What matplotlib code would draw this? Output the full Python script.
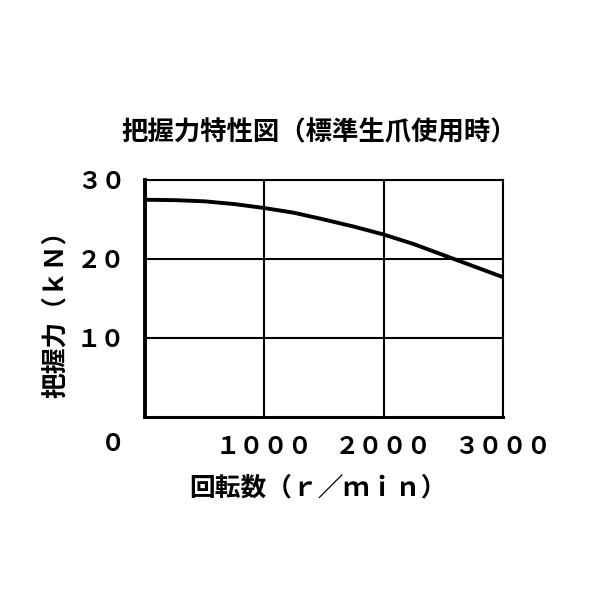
import matplotlib
matplotlib.use("Agg")
import matplotlib.pyplot as plt

plt.rcParams['font.family'] = ['Noto Sans CJK JP', 'DejaVu Sans']
plt.rcParams['font.weight'] = 'bold'

# 回転数 (r/min) と 把握力 (kN)
rpm = [0, 250, 500, 750, 1000, 1250, 1500, 1750, 2000, 2250, 2500, 2750, 3000]
force = [27.5, 27.45, 27.3, 26.95, 26.45, 25.85, 25.0, 24.1, 23.1, 21.9, 20.5, 19.1, 17.7]

xticks = [1000, 2000, 3000]
xticklabels = ["１０００", "２０００", "３０００"]
yticks = [10, 20, 30]
yticklabels = ["１０", "２０", "３０"]

fig = plt.figure(figsize=(6, 6), dpi=100)
ax = fig.add_axes([145/600, 1-417/600, 358/600, 237/600])

ax.plot(rpm, force, color="black", lw=2.8, solid_capstyle="butt", zorder=3)

ax.set_xlim(0, 3000)
ax.set_ylim(0, 30)
ax.set_xticks(xticks)
ax.set_xticklabels(xticklabels, fontsize=17.5)
ax.set_yticks(yticks)
ax.set_yticklabels(yticklabels, fontsize=17.5)
ax.tick_params(length=0, pad=13)
ax.tick_params(axis="y", pad=14)
ax.grid(True, color="black", lw=1.5)

for s in ["top", "right"]:
    ax.spines[s].set_linewidth(1.5)
ax.spines["bottom"].set_linewidth(2.2)
ax.spines["left"].set_linewidth(2.8)

# origin label
ax.text(-0.089, -0.115, "０", transform=ax.transAxes, fontsize=17.5,
        ha="center", va="center")

ax.text(0.486, 1.2, "把握力特性図（標準生爪使用時）", transform=ax.transAxes,
        fontsize=19, ha="center", va="center")
ax.text(-0.25, 0.46, "把握力（ｋＮ）", transform=ax.transAxes, fontsize=18.5,
        rotation=90, ha="center", va="center")
ax.text(0.483, -0.3, "回転数（ｒ／ｍｉｎ）", transform=ax.transAxes,
        fontsize=18.5, ha="center", va="center")

fig.savefig("out.png", dpi=100)
